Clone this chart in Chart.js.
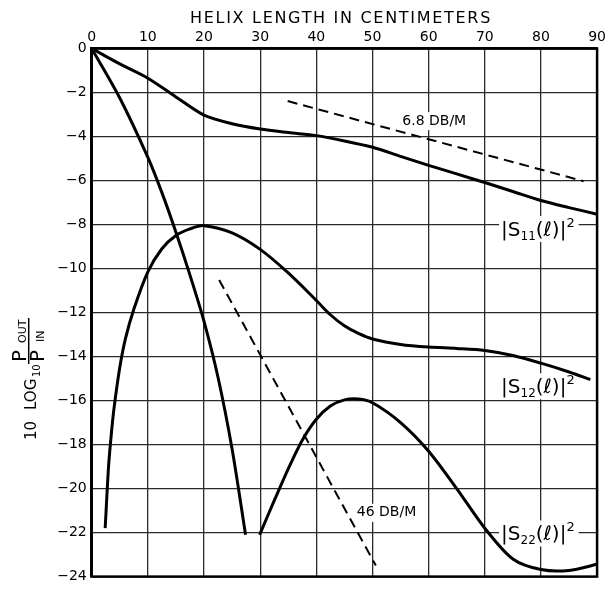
<!DOCTYPE html>
<html>
<head>
<meta charset="utf-8">
<script src="https://cdn.jsdelivr.net/npm/chart.js@4.4.1/dist/chart.umd.min.js"></script>
<style>
body { margin: 0; background: #fff; }
</style>
</head>
<body>
<canvas id="helixChart" width="609" height="590"></canvas>
<script>
// Helix length (cm) and 10 log10(Pout/Pin)
var s11Length = [0, 5, 10, 15, 20, 25, 30, 35, 40, 45, 50, 55, 60, 65, 70, 75, 80, 85, 90];
var s11Db = [0, -0.7, -1.35, -2.2, -3.03, -3.42, -3.66, -3.82, -3.96, -4.2, -4.49, -4.9, -5.31, -5.7, -6.09, -6.5, -6.91, -7.23, -7.53];

var s12Length = [2.4, 3, 3.5, 4, 5, 6, 7.5, 10, 12.5, 15, 17.5, 20, 25, 30, 35, 40, 42.5, 45, 47.5, 50, 55, 60, 65, 70, 75, 80, 85, 88.8];
var s12Db = [-21.8, -19.0, -17.5, -16.3, -14.5, -13.2, -11.85, -10.15, -9.1, -8.5, -8.2, -8.05, -8.38, -9.13, -10.2, -11.45, -12.1, -12.6, -12.95, -13.2, -13.45, -13.57, -13.63, -13.72, -13.95, -14.3, -14.7, -15.05];

// null = curve runs off the bottom of the grid (gap)
var s22Length = [0, 5, 10, 12.5, 15, 17.5, 20, 22.5, 25, 27.4, 28.6, 29.9, 32.5, 35, 37.5, 40, 42.5, 45, 47.5, 50, 55, 60, 65, 70, 75, 80, 85, 90];
var s22Db = [0, -2.25, -4.95, -6.55, -8.35, -10.3, -12.4, -14.95, -18.2, -22.1, null, -22.1, -20.55, -19.1, -17.8, -16.85, -16.25, -15.97, -15.93, -16.1, -17.0, -18.3, -20.0, -21.8, -23.2, -23.68, -23.72, -23.44];

// reference slopes
var slope68Length = [34.9, 87.6];
var slope68Db = [-2.39, -6.03];
var slope46Length = [22.7, 50.6];
var slope46Db = [-10.52, -23.5];

var xTicks = [0, 10, 20, 30, 40, 50, 60, 70, 80, 90];
var yTicks = [0, -2, -4, -6, -8, -10, -12, -14, -16, -18, -20, -22, -24];

Chart.defaults.font.family = 'DejaVu Sans';
Chart.defaults.color = '#000';

function toPoints(xs, ys) {
    return xs.map(function (x, i) { return { x: x, y: ys[i] }; });
}

// labels placed in data coordinates
var curveLabels = [
    { x: 72.9, y: -8.2, parts: [['|S'], ['11', 'sub'], ['(ℓ)|'], ['2', 'sup']] },
    { x: 72.9, y: -15.35, parts: [['|S'], ['12', 'sub'], ['(ℓ)|'], ['2', 'sup']] },
    { x: 72.9, y: -22.04, parts: [['|S'], ['22', 'sub'], ['(ℓ)|'], ['2', 'sup']] }
];
var slopeLabels = [
    { x: 61.0, y: -3.3, text: '6.8 DB/M' },
    { x: 52.5, y: -21.1, text: '46 DB/M' }
];

function partFont(kind) {
    if (kind === 'sub') return '12px DejaVu Sans';
    if (kind === 'sup') return '13px DejaVu Sans';
    return '20px DejaVu Sans';
}

function partsWidth(ctx, parts) {
    var w = 0;
    parts.forEach(function (p) {
        ctx.font = partFont(p[1]);
        w += ctx.measureText(p[0]).width;
    });
    return w;
}

function drawParts(ctx, parts, x, baseline) {
    parts.forEach(function (p) {
        ctx.font = partFont(p[1]);
        var dy = p[1] === 'sub' ? 4 : (p[1] === 'sup' ? -9 : 0);
        ctx.fillText(p[0], x, baseline + dy);
        x += ctx.measureText(p[0]).width;
    });
}

var labelPlugin = {
    id: 'labelPlugin',
    beforeDatasetsDraw: function (chart) {
        var ctx = chart.ctx, xs = chart.scales.x, ys = chart.scales.y;
        ctx.save();
        ctx.fillStyle = '#fff';
        curveLabels.forEach(function (l) {
            var px = xs.getPixelForValue(l.x), py = ys.getPixelForValue(l.y);
            ctx.fillRect(px - 2, py - 13, partsWidth(ctx, l.parts) + 6, 26);
        });
        ctx.font = '14px DejaVu Sans';
        slopeLabels.forEach(function (l) {
            var px = xs.getPixelForValue(l.x), py = ys.getPixelForValue(l.y);
            var w = ctx.measureText(l.text).width;
            ctx.fillRect(px - w / 2 - 2, py - 9, w + 4, 18);
        });
        ctx.restore();
    },
    afterDatasetsDraw: function (chart) {
        var ctx = chart.ctx, xs = chart.scales.x, ys = chart.scales.y, area = chart.chartArea;
        ctx.save();
        ctx.fillStyle = '#000';
        ctx.textBaseline = 'alphabetic';
        curveLabels.forEach(function (l) {
            drawParts(ctx, l.parts, xs.getPixelForValue(l.x), ys.getPixelForValue(l.y) + 7);
        });
        ctx.font = '14px DejaVu Sans';
        ctx.textAlign = 'center';
        ctx.textBaseline = 'middle';
        slopeLabels.forEach(function (l) {
            ctx.fillText(l.text, xs.getPixelForValue(l.x), ys.getPixelForValue(l.y));
        });

        // frame
        ctx.strokeStyle = '#000';
        ctx.lineWidth = 2.5;
        ctx.strokeRect(area.left, area.top, area.right - area.left, area.bottom - area.top);

        // top title
        ctx.font = '16px DejaVu Sans';
        ctx.letterSpacing = '1.7px';
        ctx.textAlign = 'center';
        ctx.textBaseline = 'alphabetic';
        ctx.fillText('HELIX LENGTH IN CENTIMETERS', 341, 23);
        ctx.letterSpacing = '0px';

        // y title: 10 LOG10 (POUT / PIN), rotated
        ctx.translate(area.left - 56, 440);
        ctx.rotate(-Math.PI / 2);
        ctx.textAlign = 'left';
        ctx.font = '15px DejaVu Sans';
        ctx.fillText('10', 0, 0);
        ctx.fillText('LOG', 30, 0);
        ctx.font = '10px DejaVu Sans';
        ctx.fillText('10', 63, 4);
        ctx.font = '20px DejaVu Sans';
        ctx.fillText('P', 78, -10);
        ctx.fillText('P', 78, 8);
        ctx.font = '11px DejaVu Sans';
        ctx.fillText('OUT', 97, -10);
        ctx.fillText('IN', 98, 8);
        ctx.lineWidth = 1.5;
        ctx.beginPath();
        ctx.moveTo(76, -7);
        ctx.lineTo(122, -7);
        ctx.stroke();
        ctx.restore();
    }
};

function lineSet(xs, ys, dashed) {
    return {
        data: toPoints(xs, ys),
        borderColor: '#000',
        borderWidth: dashed ? 2 : 3,
        borderDash: dashed ? [10, 6] : [],
        pointRadius: 0,
        fill: false,
        tension: dashed ? 0 : 0.3,
        spanGaps: false
    };
}

new Chart(document.getElementById('helixChart'), {
    type: 'line',
    data: {
        datasets: [
            lineSet(s11Length, s11Db, false),
            lineSet(s12Length, s12Db, false),
            lineSet(s22Length, s22Db, false),
            lineSet(slope68Length, slope68Db, true),
            lineSet(slope46Length, slope46Db, true)
        ]
    },
    options: {
        responsive: false,
        animation: false,
        layout: { padding: { left: 0, right: 10.7, top: 0, bottom: 6.5 } },
        plugins: { legend: { display: false }, tooltip: { enabled: false } },
        scales: {
            x: {
                type: 'linear',
                position: 'top',
                min: 0,
                max: 90,
                afterBuildTicks: function (scale) {
                    scale.ticks = xTicks.map(function (v) { return { value: v }; });
                },
                afterFit: function (scale) { scale.height = 48.5; },
                ticks: { font: { size: 14 }, color: '#000', padding: 3, maxRotation: 0 },
                grid: { color: '#2a2a2a', lineWidth: 1.3, drawTicks: false },
                border: { color: '#000', width: 2.5 }
            },
            y: {
                type: 'linear',
                min: -24,
                max: 0,
                afterBuildTicks: function (scale) {
                    scale.ticks = yTicks.map(function (v) { return { value: v }; });
                },
                afterFit: function (scale) { scale.width = 91.7; },
                ticks: {
                    font: { size: 14 },
                    color: '#000',
                    padding: 5,
                    callback: function (v) { return v < 0 ? '\u2212' + Math.abs(v) : String(v); }
                },
                grid: { color: '#2a2a2a', lineWidth: 1.3, drawTicks: false },
                border: { color: '#000', width: 2.5 }
            }
        }
    },
    plugins: [labelPlugin]
});
</script>
</body>
</html>
